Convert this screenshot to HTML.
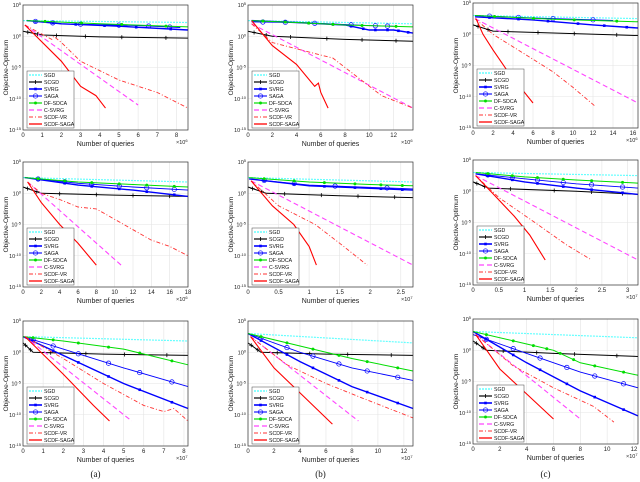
<!DOCTYPE html>
<html><head><meta charset="utf-8"><style>
body{margin:0;background:#fff;width:640px;height:482px;overflow:hidden}
svg{display:block;font-family:"Liberation Sans",sans-serif}
</style></head><body>
<svg id="fig" width="640" height="482" viewBox="0 0 640 482"></svg>
<script>
// Series order
const seriesNames = ["SGD","SCGD","SVRG","SAGA","DF-SDCA","C-SVRG","SCDF-VR","SCDF-SAGA"];
// Panel x-axis configs
const panelXmax = [8.6,13.6,16.5, 18,2.7,3.2, 8.2,12.7,12.3];
const panelXticks = [
 [0,1,2,3,4,5,6,7,8],[0,2,4,6,8,10,12],[0,2,4,6,8,10,12,14,16],
 [0,2,4,6,8,10,12,14,16,18],[0,0.5,1,1.5,2,2.5],[0,0.5,1,1.5,2,2.5,3],
 [0,1,2,3,4,5,6,7,8],[0,2,4,6,8,10,12],[0,2,4,6,8,10,12]];
const panelExp = [6,6,6, 6,7,7, 7,7,7];
const yTicks = [5,0,-5,-10,-15];
// Series data per panel: [x, log10(value)] pairs
const p1 = [
 [[0,2.5],[8.6,2.2]],
 [[0,0.8],[1,0.2],[4,-0.1],[8.6,-0.3]],
 [[0.2,2.5],[2,2.0],[5,1.6],[8.6,1.0]],
 [[0.2,2.5],[2,2.0],[6,1.7],[8.2,1.4]],
 [[0.2,2.5],[4,2.0],[8.6,1.5]],
 [[0.1,1.8],[6,-11]],
 [[0.1,1.8],[1.5,-0.5],[1.6,0],[2,-1],[3,-4],[5,-7],[7,-9],[8.6,-11.5]],
 [[0.1,1.8],[2,-4],[3,-8],[3.8,-9.5],[4.3,-11.5]]];
const p2 = [
 [[0,2.5],[13.6,2.0]],
 [[0,0.8],[2,0],[8,-0.5],[13.6,-0.8]],
 [[0.3,2.5],[4,2.2],[8,1.8],[10,1.0],[12,1.0],[13.6,0.5]],
 [[0.3,2.3],[4,2.2],[10,1.7],[12,1.6]],
 [[0.3,2.5],[4,2.2],[8,1.8],[13.6,1.5]],
 [[0.3,2],[13.6,-11.5]],
 [[0.3,2],[2,-1],[4,-2],[7,-3.5],[9,-6.5],[11,-9.5],[13.6,-11.5]],
 [[0.3,2.5],[2,-1.5],[4,-4.5],[5.5,-8],[5.8,-7.5],[6,-9],[6.6,-11.5]]];
const p3 = [
 [[0,3],[16.5,2.5]],
 [[0,1.5],[2,0.5],[8,0.2],[16.5,-0.2]],
 [[0.2,2.8],[6,2.3],[12,1.5],[16.5,1.0]],
 [[0.2,3],[6,2.6],[14,2.2]],
 [[0.2,3],[8,2.4],[16.5,2.0]],
 [[0.2,2.5],[16.5,-11]],
 [[0.2,2.5],[2,0],[5,-3],[8,-6],[10,-8.5],[12.2,-11.5]],
 [[0.3,2.5],[1,0],[2,-2.5],[3.5,-6],[4.5,-8],[6,-11]]];
const p4 = [
 [[0,2.5],[18,1.8]],
 [[0,1],[2,0],[10,-0.3],[18,-0.5]],
 [[0.2,2.5],[6,1.3],[12,0.5],[18,-0.5]],
 [[0.2,2.5],[6,1.6],[12,1.0],[18,0.5]],
 [[0.2,2.5],[6,1.8],[12,1.4],[18,1.0]],
 [[0.5,1.8],[10.7,-11.5]],
 [[0.5,1.8],[2,0],[4,-1],[6,-2.2],[8,-2.5],[11,-5],[14,-7.5],[16,-8.5],[18,-10]],
 [[0.5,1.8],[2,-1.5],[4,-5],[6,-8],[8,-11.5]]];
const p5 = [
 [[0,2.5],[2.7,1.8]],
 [[0,1],[0.3,0],[1.5,-0.4],[2.7,-0.7]],
 [[0.02,2.3],[1,1.2],[2,0.8],[2.7,0.5]],
 [[0.02,2.3],[1,1.3],[2.7,0.7]],
 [[0.02,2.5],[1,1.8],[2,1.4],[2.7,1.2]],
 [[0.05,2],[2.7,-11.5]],
 [[0.05,2],[0.5,-2],[1.1,-5],[1.5,-8],[1.95,-11.5]],
 [[0.05,2],[0.4,-2],[0.75,-5],[1.0,-8.5],[1.12,-11.5]]];
const p6 = [
 [[0,3],[3.2,2.5]],
 [[0,1.5],[0.3,0.5],[2,0],[3.2,-0.5]],
 [[0.05,2.8],[1,1.5],[2,0.5],[3.2,-0.5]],
 [[0.05,2.8],[1,2.0],[2,1.2],[3.2,0.5]],
 [[0.05,3],[1,2.3],[2,1.8],[3.2,1.3]],
 [[0.05,2.5],[3.2,-11]],
 [[0.05,2.5],[0.5,-1],[1.2,-5],[1.8,-8.5],[2.3,-11]],
 [[0.05,2.5],[0.4,-0.5],[0.8,-4],[1.1,-7],[1.4,-11]]];
const p7 = [
 [[0,2.5],[8.2,1.8]],
 [[0,1.5],[0.5,0],[4,-0.3],[8.2,-0.5]],
 [[0,2.5],[2,-0.5],[5,-5],[8.2,-9]],
 [[0,2.5],[2,0.5],[5,-2.5],[8.2,-5.5]],
 [[0,2.5],[2,1.8],[5,0.5],[8.2,-2]],
 [[0.1,2.5],[5.4,-11]],
 [[0.1,2.5],[2,-1],[4,-5],[6,-8.5],[7,-9.5],[7.5,-9],[8.2,-11]],
 [[0.1,2.5],[2,-3.5],[3.5,-8.5],[4.3,-11]]];
const p8 = [
 [[0,3],[12.7,1.5]],
 [[0,1.5],[1,0],[6,-0.3],[12.7,-0.5]],
 [[0,3],[4,-1.5],[8,-5.5],[12.7,-9]],
 [[0,3],[4,0],[8,-2.5],[12.7,-4.5]],
 [[0,3],[4,1],[8,-1],[12.7,-3]],
 [[0.2,2.5],[8.5,-11]],
 [[0.2,2.5],[3,-2],[6,-5],[9,-7.5],[12.7,-10.5]],
 [[0.2,2.5],[2,-2.5],[4,-6.5],[6.5,-11.5]]];
const p9 = [
 [[0,3],[12.3,2]],
 [[0,1.5],[1,0],[6,-0.5],[12.3,-1]],
 [[0,3],[4,-2],[8,-6.5],[12.3,-10.5]],
 [[0,2.5],[4,-0.5],[8,-3.5],[12.3,-6]],
 [[0,3],[4,1],[6,0],[8,-2],[12.3,-4]],
 [[0.2,2.5],[8,-11]],
 [[0.2,2.5],[3,-2.5],[6,-6],[9,-9],[10.5,-11.5]],
 [[0.2,2.5],[2,-3],[4,-7],[6,-11]]];
const panelData = [p1,p2,p3,p4,p5,p6,p7,p8,p9];

const colLeft=[23,248,473], colW=165;
const rowTop=[5,162,321], rowH=125;
const colors=["#6ff","#000","#00f","#00f","#0d0","#f4f","#f33","#f00"];
const dashes=["2,1","","","","","5,3","4,2,1,2",""];
const widths=[1.2,1,1.4,0.9,1,1.1,0.9,1.1];
const markers=[null,"plus","square","circle","dot",null,null,null];
const NS="http://www.w3.org/2000/svg";
const svg=document.getElementById('fig');
function mk(tag,attrs,parent){const e=document.createElementNS(NS,tag);for(const k in attrs)e.setAttribute(k,attrs[k]);(parent||svg).appendChild(e);return e;}
function fmt(v){return (Math.round(v*10)/10).toString();}

for(let p=0;p<9;p++){
  const L=colLeft[p%3], T=rowTop[Math.floor(p/3)]-(p%3===2?2:0);
  const xmax=panelXmax[p];
  const sx=x=>L+x/xmax*colW;
  const sy=v=>T+(5-v)/20*rowH;
  const g=mk('g',{});
  
  
  mk('rect',{x:L,y:T,width:colW,height:rowH,fill:'#fff',stroke:'none'},g);
  for(const t of panelXticks[p]){
    const x=sx(t);
    const gl=mk('line',{x1:x,x2:x,y1:T,y2:T+rowH,stroke:'#e4e4e4','stroke-width':0.6},g);
    
    
    const tl=mk('text',{x:x,y:T+rowH+7,'font-size':6,'text-anchor':'middle',fill:'#222'},g);
    tl.textContent=fmt(t);
    
    
  }
  for(const t of yTicks){
    const y=sy(t);
    const gl=mk('line',{x1:L,x2:L+colW,y1:y,y2:y,stroke:'#e4e4e4','stroke-width':0.6},g);
    
    
    const tl=mk('text',{x:L-2,y:y+2,'font-size':5.5,'text-anchor':'end',fill:'#222'},g);
    tl.innerHTML='10<tspan dy="-2" font-size="4">'+t+'</tspan>';
    
    
  }
  const data=panelData[p];
  for(let s=0;s<8;s++){
    const pts=data[s].map(d=>sx(d[0]).toFixed(1)+','+sy(d[1]).toFixed(1)).join(' ');
    const pl=mk('polyline',{points:pts,fill:'none',stroke:colors[s],'stroke-width':widths[s],'stroke-dasharray':dashes[s]},g);
    
    
    if(markers[s]){
      const d=data[s];
      for(let i=0;i<d.length-1;i++){
        for(let f=0.25;f<1;f+=0.5){
          const xv=d[i][0]+(d[i+1][0]-d[i][0])*f, vv=d[i][1]+(d[i+1][1]-d[i][1])*f;
          drawMarker(g,markers[s],sx(xv),sy(vv),colors[s]);
        }
      }
    }
  }
  const box=mk('rect',{x:L,y:T,width:colW,height:rowH,fill:'none',stroke:'#333','stroke-width':0.7},g);
  
  
  const xl=mk('text',{x:L+colW/2,y:T+rowH+16,'font-size':7,'text-anchor':'middle',fill:'#222'},g);
  xl.textContent='Number of queries';
  
  
  const ex=mk('text',{x:L+colW-12,y:T+rowH+14,'font-size':5.5,fill:'#222'},g);
  ex.innerHTML='×10<tspan dy="-2" font-size="4">'+panelExp[p]+'</tspan>';
  
  
  const yl=mk('text',{x:0,y:0,'font-size':6.5,'text-anchor':'middle',fill:'#222',transform:'translate('+(L-15)+','+(T+rowH/2)+') rotate(-90)'},g);
  yl.textContent='Objective-Optimum';
  
  
  const lx=L+4, ly=T+66, lw=47, lh=57;
  const lg=mk('g',{},g);
  
  
  mk('rect',{x:lx,y:ly,width:lw,height:lh,fill:'#fff',stroke:'#444','stroke-width':0.5},lg);
  for(let s=0;s<8;s++){
    const yy=ly+4+s*7;
    const ll=mk('line',{x1:lx+2,x2:lx+15,y1:yy,y2:yy,stroke:colors[s],'stroke-width':widths[s]+0.2,'stroke-dasharray':dashes[s]},lg);
    
    
    if(markers[s]) drawMarker(lg,markers[s],lx+8.5,yy,colors[s]);
    const lt=mk('text',{x:lx+17,y:yy+2,'font-size':5.2,fill:'#111'},lg);
    lt.textContent=seriesNames[s];
    
    
  }
}
function drawMarker(g,type,x,y,c){
  let m;
  if(type==='plus') m=mk('path',{d:`M${x-2},${y}H${x+2}M${x},${y-2}V${y+2}`,stroke:c,'stroke-width':0.8},g);
  else if(type==='square') m=mk('rect',{x:x-1.3,y:y-1.3,width:2.6,height:2.6,fill:c},g);
  else if(type==='circle') m=mk('circle',{cx:x,cy:y,r:2.2,fill:'none',stroke:c,'stroke-width':0.7},g);
  else m=mk('circle',{cx:x,cy:y,r:1.5,fill:c},g);
  
  
}
['(a)','(b)','(c)'].forEach((t,i)=>{
  const e=mk('text',{x:colLeft[i]+colW/2-10,y:477,'font-size':9,'text-anchor':'middle','font-family':'Liberation Serif, serif',fill:'#111'});
  e.textContent=t;
  
  
});
</script>
</body></html>
